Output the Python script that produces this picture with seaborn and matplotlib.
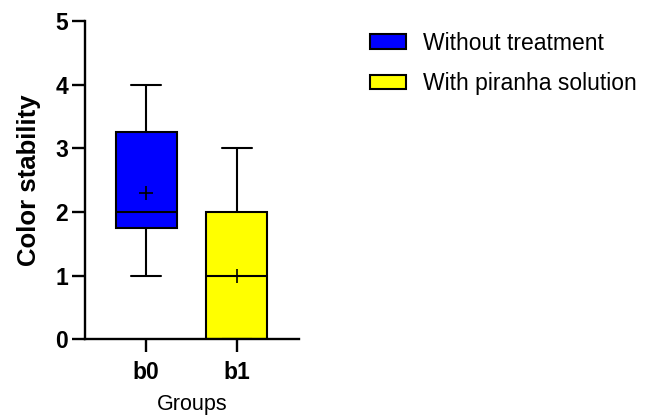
import matplotlib
matplotlib.use("Agg")
import matplotlib.pyplot as plt
import seaborn as sns
import pandas as pd

groups = ["b0", "b1"]
treatments = ["Without treatment", "With piranha solution"]
colors = ["#0000FF", "#FFFF00"]

# color stability scores per sample
b0_scores = [1, 1, 1, 1, 1, 2, 2, 2, 2, 2, 2, 2, 2, 2, 3, 4, 4, 4, 4, 4]
b1_scores = [0, 0, 0, 0, 0, 0, 0, 1, 1, 1, 1, 1, 1, 1, 2, 2, 2, 2, 2, 3]

df = pd.DataFrame({
    "Groups": [groups[0]] * len(b0_scores) + [groups[1]] * len(b1_scores),
    "Treatment": [treatments[0]] * len(b0_scores) + [treatments[1]] * len(b1_scores),
    "Color stability": b0_scores + b1_scores,
})

sns.set_style("ticks", {"axes.edgecolor": "black", "text.color": "black",
                        "axes.labelcolor": "black", "xtick.color": "black",
                        "ytick.color": "black"})
plt.rcParams['font.family'] = ['Liberation Sans', 'DejaVu Sans']

fig = plt.figure(figsize=(6.47, 4.16), dpi=100)
ax = fig.add_axes([0.132, 0.184, 0.33, 0.7655])

sns.boxplot(data=df, x="Groups", y="Color stability", hue="Treatment",
            palette=colors, dodge=False, width=0.67, saturation=1,
            whis=(0, 100), linecolor="black", linewidth=1.5,
            showmeans=True,
            meanprops=dict(marker="+", markeredgecolor="black",
                           markerfacecolor="black", markersize=10,
                           markeredgewidth=1.2),
            ax=ax)

ax.set_xlim(-0.672, 1.687)
ax.set_ylim(0, 5)
ax.set_yticks([0, 1, 2, 3, 4, 5])
sns.despine(ax=ax)
for s in ["left", "bottom"]:
    ax.spines[s].set_linewidth(1.7)
ax.tick_params(length=9.5, width=1.7, labelsize=16.5, color="black",
               labelcolor="black")
ax.tick_params(axis="y", pad=3)
ax.tick_params(axis="x", pad=6)
for lab in ax.get_xticklabels() + ax.get_yticklabels():
    lab.set_fontweight("bold")

ax.set_xlabel("Groups", fontsize=15.5, labelpad=7)
ax.set_ylabel("Color stability", fontsize=18.5, fontweight="bold", labelpad=10)

handles, labels = ax.get_legend_handles_labels()
ax.legend(handles, labels, loc="upper left", bbox_to_anchor=(0.572, 0.924),
          bbox_transform=fig.transFigure, frameon=False, fontsize=16.5,
          handlelength=1.55, handleheight=0.57, handletextpad=0.78,
          labelspacing=0.75, borderpad=0, borderaxespad=0)

fig.savefig("out.png", dpi=100)
